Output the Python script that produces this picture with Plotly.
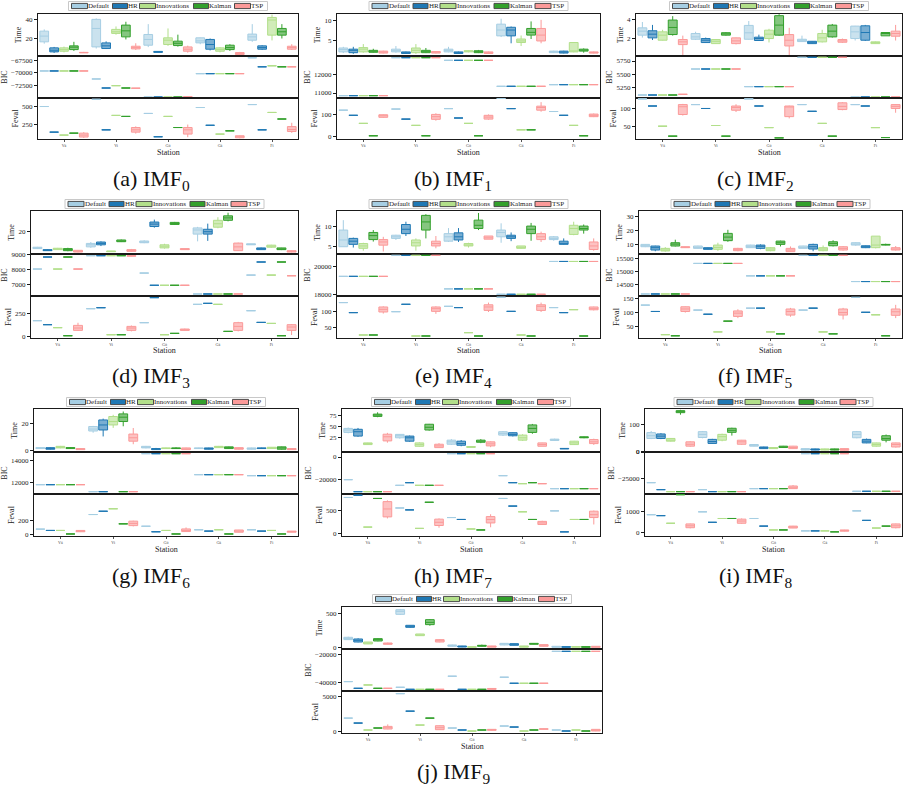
import plotly.graph_objects as go

W, H = 907, 790
FONT = "Liberation Serif"

STATIONS = ["Vä", "Vi", "Gö", "Gä", "Fi"]
METHODS = ["Default", "HR", "Innovations", "Kalman", "TSP"]
COLORS = {"Default": "#a6cee3", "HR": "#1f78b4", "Innovations": "#b2df8a",
          "Kalman": "#33a02c", "TSP": "#fb9a99"}

# Each entry per station: single value (flat box) or [low whisker, q1, median, q3, high whisker]

# ---------------- IMF0 ----------------
TIME_0 = {
    "Default": [[14.6, 16.5, 22.5, 27.7, 29.5], [9.5, 11.2, 30.5, 40, 41], [11, 13, 19, 24.2, 35], [14, 15.4, 17.5, 20.7, 21], [16.5, 18.2, 21.7, 24.6, 35]],
    "HR": [[4.9, 6, 7.7, 10.2, 11.2], [9, 9.5, 12.3, 15.4, 17], [5.3, 5.5, 6, 6.5, 6.7], [7.5, 8.8, 13.7, 19, 20], [8, 8.8, 10.5, 12.3, 13]],
    "Innovations": [[5.5, 6.7, 8.4, 10.2, 11.5], [24, 25.3, 27, 29.5, 32.6], [12.3, 13.7, 18.2, 20.7, 30.5], [5.5, 6.7, 8.4, 10.2, 11], [18, 23.5, 39.3, 42, 45]],
    "Kalman": [[7, 8.4, 10.9, 12.3, 16.5], [19, 21.7, 28, 34, 37.5], [11.5, 12.6, 15, 17.2, 24], [7, 8.4, 10.5, 13, 14], [20, 23.5, 27, 30.5, 35]],
    "TSP": [[4.8, 5, 5.3, 5.5, 6], [8, 9.1, 10.5, 11.9, 15], [5.2, 6.7, 8.8, 11.2, 12.5], [2.5, 3.2, 4.2, 5.3, 6], [8, 8.8, 10.5, 11.9, 14]],
}
BIC_0 = {
    "Default": [-69600, -71180, -74740, -70130, -67000],
    "HR": [-69600, -72960, -74740, -70130, -68780],
    "Innovations": [-69600, -72500, -74740, -70130, -68580],
    "Kalman": [-69600, -72960, -74740, -70130, -68780],
    "TSP": [-69600, -73000, [-74900, -74850, -74740, -74650, -74600], -70130, -68780],
}
FEVAL_0 = {
    "Default": [505, 605, 409, 491, 532],
    "HR": [150, 182, 86, 245, 182],
    "Innovations": [109, 382, 368, 123, 423],
    "Kalman": [136, 368, 214, 168, 332],
    "TSP": [[70, 82, 109, 136, 150], [130, 150, 182, 214, 230], [80, 123, 182, 214, 255], [65, 72, 86, 100, 105], [140, 159, 186, 227, 280]],
}

# ---------------- IMF1 ----------------
TIME_1 = {
    "Default": [[1.7, 2, 2.6, 3, 3.3], [1.8, 2, 2.3, 2.7, 3.5], [1.9, 2, 2.4, 2.7, 3.3], [5.8, 6.1, 7.6, 9.1, 10.5], [1.7, 1.8, 2.1, 2.2, 2.3]],
    "HR": [[1.5, 1.8, 2.4, 2.7, 3.3], [1.5, 1.6, 1.8, 2, 2.1], [1.5, 1.6, 1.8, 2, 2.1], [4.2, 6.1, 7.6, 8.3, 8.5], [1.6, 1.7, 1.9, 2.2, 2.3]],
    "Innovations": [[1.8, 2, 2.7, 3.1, 4], [1.5, 1.8, 2.4, 3, 4], [1.9, 2, 2.2, 2.3, 2.4], [3.5, 4.4, 4.8, 5.3, 6.2], [1.9, 2, 2.2, 4.4, 4.4]],
    "Kalman": [[1.8, 1.9, 2.2, 2.4, 2.8], [1.7, 1.8, 2.2, 2.4, 3], [1.7, 1.8, 2.1, 2.3, 2.5], [5.3, 6.3, 7, 8, 9.8], [1.8, 2.2, 2.4, 2.7, 2.9]],
    "TSP": [[1.6, 1.7, 1.9, 2.2, 2.3], [1.6, 1.7, 1.9, 2.1, 2.2], [1.5, 1.6, 1.8, 2, 2.1], [4.2, 4.8, 6.3, 8, 10.2], [1.6, 1.7, 1.8, 2, 2.1]],
}
BIC_1 = {
    "Default": [10855, 12927, 12782, 11364, 11455],
    "HR": [10855, 12927, 12782, 11364, 11455],
    "Innovations": [10855, 12927, 12782, 11364, 11455],
    "Kalman": [10855, 12927, 12782, 11364, 11455],
    "TSP": [10855, 12927, 12782, 11364, 11455],
}
FEVAL_1 = {
    "Default": [119, 124, 126, 172, 113],
    "HR": [96, 79, 84, 126, 96],
    "Innovations": [60, 51, 60, 31, 51],
    "Kalman": [4.4, 4.4, 4.4, 31, 4.4],
    "TSP": [[85, 87, 94, 98.5, 100], [72, 78, 90, 100, 105], [76, 79, 88, 96, 100], [112, 119, 131, 137, 155], [88, 90, 96, 101.5, 104]],
}

# ---------------- IMF2 ----------------
TIME_2 = {
    "Default": [[2.1, 2.35, 2.76, 3.1, 3.7], [1.85, 1.93, 2.17, 2.52, 2.7], [1.9, 1.93, 2.59, 3.35, 3.8], [1.65, 1.69, 1.83, 1.93, 2.3], [1.8, 2, 2.69, 3.28, 3.3]],
    "HR": [[1.85, 2.07, 2.45, 2.8, 3.4], [1.55, 1.59, 1.83, 2, 2.1], [1.75, 1.8, 2, 2.14, 2.4], [1.45, 1.48, 1.62, 1.72, 1.75], [1.75, 1.83, 2.62, 3.31, 3.4]],
    "Innovations": [[1.8, 1.83, 2.35, 2.69, 2.9], [1.45, 1.48, 1.72, 1.9, 1.95], [1.6, 2, 2.45, 2.86, 3], [1.6, 1.66, 2.07, 2.52, 2.9], [1.45, 1.48, 1.6, 1.66, 1.7]],
    "Kalman": [[2.3, 2.41, 3.14, 3.9, 4.3], [2.3, 2.35, 2.48, 2.6, 2.65], [2.3, 2.35, 3.38, 4.35, 4.5], [2.1, 2.17, 2.76, 3.38, 3.5], [2.28, 2.28, 2.52, 2.62, 2.62]],
    "TSP": [[0.3, 1.38, 1.66, 1.9, 2.3], [1.4, 1.48, 1.76, 2.07, 2.1], [0.3, 1.24, 1.83, 2.41, 3.1], [1.55, 1.62, 1.76, 1.9, 2], [1.8, 2.24, 2.52, 2.76, 3.4]],
}
BIC_2 = {
    "Default": [5104, 5598, 5263, 5820, 5066],
    "HR": [5104, 5598, 5263, 5820, 5066],
    "Innovations": [5104, 5598, 5263, 5820, 5066],
    "Kalman": [5104, 5598, 5263, 5820, 5066],
    "TSP": [5117, 5598, 5263, 5820, 5066],
}
FEVAL_2 = {
    "Default": [127, 111, 127, 111, 111],
    "HR": [107, 100, 107, 92, 107],
    "Innovations": [50, 52, 46, 58, 46],
    "Kalman": [22, 22, 17, 22, 18],
    "TSP": [[80, 83, 105, 111, 113], [90, 95, 103, 107, 112], [72, 77, 105, 107, 108], [95, 97, 106, 116, 118], [88, 100, 106, 111, 112]],
}

# ---------------- IMF3 ----------------
TIME_3 = {
    "Default": [[5, 5.3, 5.9, 6.5, 6.8], [6, 6.8, 8.6, 9.8, 11], [10, 10.4, 11, 11.9, 12.5], [11.6, 17.9, 21.5, 23.3, 24.2], [8.5, 8.6, 8.9, 9.5, 9.6]],
    "HR": [[3.2, 3.5, 3.8, 4.4, 4.7], [7.5, 8.6, 9.8, 11, 11.6], [23.5, 24.5, 26.6, 28.4, 30.5], [12, 17.9, 20, 22.1, 27], [4.2, 4.4, 5.3, 5.9, 6.2]],
    "Innovations": [[4.2, 4.4, 5, 5.6, 5.9], [2.5, 2.6, 2.9, 3.2, 3.3], [5.3, 5.9, 7.4, 8.6, 9.5], [23, 23.9, 26.9, 29.9, 32.6], [6, 6.5, 7.4, 8.3, 8.6]],
    "Kalman": [[3, 3.5, 4.4, 5.3, 6], [11, 11.3, 11.9, 12.8, 13.2], [26, 26.3, 27.2, 28.1, 28.5], [29, 29.9, 32, 33.8, 36.5], [4, 4.4, 5, 5.9, 6]],
    "TSP": [[2, 2.3, 2.9, 3.8, 4.1], [2.4, 2.9, 3.5, 4.4, 5], [4.4, 4.4, 4.7, 5.3, 5.3], [3.2, 3.5, 6.8, 10.1, 10.5], [2, 2.3, 2.9, 3.5, 3.8]],
}
BIC_3 = {
    "Default": [8022, 8900, 7758, 6385, 7626],
    "HR": [8813, 8900, 6956, 6385, 8484],
    "Innovations": [8022, 8900, 6956, 6385, 7626],
    "Kalman": [8813, 8900, 6956, 6385, 8484],
    "TSP": [8022, [8860, 8870, 8885, 8900, 8905], 6956, 6385, 7582],
}
FEVAL_3 = {
    "Default": [173, 305, 151, 353, 283],
    "HR": [129, 316, 427, 364, 154],
    "Innovations": [96, 18, 18, 353, 143],
    "Kalman": [7, 18, 33, 55, 7],
    "TSP": [[60, 66, 92, 121, 150], [55, 66, 92, 110, 120], [62, 66, 73, 81, 85], [55, 66, 110, 151, 160], [15, 66, 103, 129, 135]],
}

# ---------------- IMF4 ----------------
TIME_4 = {
    "Default": [[5, 5, 6.7, 9.2, 11.7], [6.7, 7.1, 7.5, 7.9, 8], [6.2, 6.4, 7.5, 8.3, 9.7], [6, 7.5, 8.6, 9.2, 10.9], [6.5, 6.8, 7.1, 7.5, 7.7]],
    "HR": [[4.8, 5.6, 6.4, 7.1, 7.3], [7.7, 8.3, 9.4, 10.6, 11.3], [6.2, 6.7, 7.5, 8.5, 9.7], [6.4, 7.1, 7.5, 7.9, 8.6], [5.5, 5.6, 5.8, 6.4, 7.1]],
    "Innovations": [[4, 4.6, 5.2, 5.8, 6], [4, 5.2, 6, 6.7, 7.1], [4.8, 5.2, 5.4, 5.8, 6], [4.5, 4.6, 4.8, 5.2, 5.2], [7.9, 8.1, 9.6, 10.4, 11.3]],
    "Kalman": [[6.3, 6.8, 7.8, 8.6, 9.2], [7.1, 9.2, 11.25, 12.9, 13.2], [9.2, 9.6, 10.4, 11.7, 13.5], [6.5, 8.3, 9.4, 10.2, 11], [8.3, 9.2, 9.6, 10.2, 10.6]],
    "TSP": [[3.8, 5.4, 6.2, 6.8, 7.5], [4.6, 5.2, 5.8, 6.4, 7.7], [6.9, 6.9, 7.25, 7.7, 7.7], [6.2, 6.8, 7.5, 8.3, 8.8], [4, 4.3, 5.2, 6.2, 7.1]],
}
BIC_4 = {
    "Default": [19325, 20819, 18434, 18048, 20385],
    "HR": [19325, 20819, 18434, 18048, 20385],
    "Innovations": [19325, 20819, 18434, 18048, 20385],
    "Kalman": [19325, 20819, 18434, 18048, 20385],
    "TSP": [19325, 20819, 18434, 18048, 20385],
}
FEVAL_4 = {
    "Default": [130, 101, 118, 147, 114],
    "HR": [98, 124.5, 114, 102, 98],
    "Innovations": [26.6, 23.4, 34, 26.6, 107.4],
    "Kalman": [26.6, 23.4, 23.4, 23.4, 23.4],
    "TSP": [[95, 100, 108.5, 116, 118], [94, 102, 110.6, 116, 118], [100, 105, 116, 123, 130], [100, 105, 118, 123, 130], [105, 107, 110.6, 116, 117]],
}

# ---------------- IMF5 ----------------
TIME_5 = {
    "Default": [[8, 8.3, 9, 10, 10.2], [6.9, 7.1, 7.8, 8.8, 9], [7.5, 7.6, 8.6, 9.5, 9.7], [7, 7.1, 7.8, 8.8, 9], [9, 9.5, 10.2, 11.2, 11.5]],
    "HR": [[5, 5.9, 7.6, 8.8, 9], [6.3, 6.4, 6.9, 7.6, 7.8], [6.5, 7.1, 8.6, 9.5, 10], [5, 6.6, 8.3, 10, 10.5], [7.3, 7.6, 8.3, 9, 9.2]],
    "Innovations": [[4.7, 5.2, 5.9, 7.1, 8], [5.3, 6.4, 7.8, 9.5, 11.2], [5, 5.4, 6.6, 7.6, 8], [5, 5.4, 6.6, 7.6, 9.2], [7.1, 7.6, 9.5, 16, 16]],
    "Kalman": [[8.5, 8.8, 10.2, 11.2, 13.4], [11.9, 12.7, 15.3, 18, 20.6], [8.5, 10, 11.2, 12.4, 12.7], [8.5, 9, 10.7, 11.9, 13], [9.3, 9.5, 9.8, 10, 10.5]],
    "TSP": [[7.5, 7.6, 8, 8.3, 8.4], [5, 5.4, 6.4, 7.1, 7.5], [4.5, 4.7, 5.9, 7.1, 8.5], [5.5, 5.9, 7.1, 8.3, 8.8], [5.5, 5.9, 6.6, 7.6, 8.8]],
}
BIC_5 = {
    "Default": [14141, 15308, 14833, 15615, 14615],
    "HR": [14141, 15308, 14833, 15615, 14615],
    "Innovations": [14141, 15308, 14833, 15615, 14615],
    "Kalman": [14141, 15308, 14833, 15615, 14615],
    "TSP": [14141, 15308, 14833, 15615, 14615],
}
FEVAL_5 = {
    "Default": [127, 109, 116, 109, 155],
    "HR": [104, 94, 116, 116, 101],
    "Innovations": [20, 30, 30, 30, 92],
    "Kalman": [16, 69, 23, 23, 16],
    "TSP": [[100, 104, 113, 121, 122], [80, 86, 98, 106, 112], [85, 91, 104, 113, 117], [75, 91, 100, 113, 117], [80, 90, 103, 113, 128]],
}

# ---------------- IMF6 ----------------
TIME_6 = {
    "Default": [[1, 1.3, 1.8, 2, 2.2], [13.3, 14.6, 16.1, 18, 18.5], [1.5, 1.8, 2.3, 3, 3.3], [1.1, 1.3, 1.5, 1.8, 2], [0.6, 0.8, 1.3, 1.8, 2]],
    "HR": [[0.5, 0.8, 1.3, 2, 2.3], [10.5, 15.4, 19.2, 23, 24], [0.3, 0.5, 1, 1.3, 1.8], [0.6, 0.8, 1.3, 1.8, 2], [1.1, 1.3, 1.5, 1.8, 2]],
    "Innovations": [[1.5, 1.8, 2.3, 3, 3.3], [17, 19.2, 21.8, 25.6, 26.9], [1.1, 1.3, 1.5, 1.8, 2], [1.8, 2, 2.6, 3, 3.3], [1.1, 1.3, 1.8, 2.3, 2.5]],
    "Kalman": [[1, 1.3, 1.8, 2, 2.3], [18.2, 21.8, 25.1, 27.6, 29.4], [1, 1.3, 1.5, 1.8, 2.3], [1, 1.3, 2, 2.6, 2.8], [0.5, 0.8, 1.8, 2.6, 2.8]],
    "TSP": [[0.3, 0.5, 0.8, 1.3, 1.5], [4.6, 6.9, 9.5, 12.3, 16.9], [0.3, 0.5, 1, 1.8, 2], [0.5, 0.8, 1.3, 2, 2.3], [0.3, 0.5, 0.8, 1.3, 1.5]],
}
BIC_6 = {
    "Default": [11821, 11194, 14597, 12716, 12627],
    "HR": [11821, 11194, 14597, 12716, 12627],
    "Innovations": [11821, 10990, 14597, 12716, 12627],
    "Kalman": [11821, 11194, 14597, 12716, 12627],
    "TSP": [11821, 11194, 14597, 12716, 12627],
}
FEVAL_6 = {
    "Default": [81, 287.5, 122, 72, 72],
    "HR": [62.5, 334, 44, 53, 53],
    "Innovations": [62.5, 369, 62.5, 72, 62.5],
    "Kalman": [12.5, 156, 12.5, 12.5, 12.5],
    "TSP": [[40, 44, 53, 62.5, 65], [120, 131, 162.5, 194, 200], [45, 47, 62.5, 84, 105], [35, 37.5, 53, 69, 70], [35, 37.5, 47, 53, 55]],
}

# ---------------- IMF7 ----------------
TIME_7 = {
    "Default": [[35, 37, 42.4, 46, 48], [23, 25, 29.5, 32.6, 33], [9, 10.6, 15.9, 19.7, 22], [29, 31, 34.9, 38.6, 40], [18, 19, 20.5, 22, 23]],
    "HR": [[27, 28.8, 38.6, 44, 47], [16, 17.4, 25, 28.8, 30], [6, 8.3, 12.1, 17.4, 20], [28, 29.5, 32.6, 36.4, 37], [0.1, 0.2, 0.6, 1.2, 1.5]],
    "Innovations": [[9, 9.8, 12, 13.6, 14], [5, 6, 9.8, 13.6, 15], [3, 3.5, 4.5, 5.5, 6], [18, 19.7, 25, 31, 33], [9, 9.8, 13.6, 17.4, 18]],
    "Kalman": [[71, 72.8, 75.8, 78, 82], [41, 42.4, 48.5, 55.3, 56], [13, 15, 17.4, 19.7, 22], [34, 37, 46, 53.8, 56], [24, 25, 25.8, 27.3, 28]],
    "TSP": [[14, 18, 27.3, 33, 36], [3, 3, 6.8, 10.6, 13], [4, 6.8, 11.4, 15.9, 17], [6, 6, 9.8, 13.6, 14], [9, 12, 15.9, 21, 23]],
}
BIC_7 = {
    "Default": [-20000, -25000, 2940, -16470, -27940],
    "HR": [-30588, -22647, 2940, -22647, -27940],
    "Innovations": [-30588, -25000, 2940, -23530, -27940],
    "Kalman": [-30588, -25000, 2940, -22647, -27940],
    "TSP": [-30588, -25000, 2940, -23530, -27940],
}
FEVAL_7 = {
    "Default": [781, 555, 349, 760, 493],
    "HR": [829, 514, 308, 596, 41],
    "Innovations": [144, 116, 103, 473, 308],
    "Kalman": [760, 678, 82, 308, 308],
    "TSP": [[330, 363, 534, 692, 720], [130, 178, 247, 315, 330], [140, 233, 308, 370, 420], [190, 199, 233, 267, 280], [200, 349, 411, 486, 500]],
}

# ---------------- IMF8 ----------------
TIME_8 = {
    "Default": [[45, 47.5, 57.5, 69, 75], [48, 51, 62.5, 72.5, 75], [18, 19, 22.5, 25, 26], [4, 5, 6, 10, 11], [48, 50, 62.5, 72.5, 75]],
    "HR": [[45, 47.5, 56, 64, 67], [28, 29, 36, 44, 46], [9, 10, 14, 16, 17], [4, 5, 6, 9, 10], [30, 31, 37.5, 44, 47]],
    "Innovations": [[36, 37.5, 41, 47.5, 48], [37, 41, 54, 62.5, 65], [9, 10, 12, 14, 15], [4, 5, 6, 9, 10], [17, 19, 25, 31, 32]],
    "Kalman": [[135, 142.5, 146, 150, 153], [58, 70, 77.5, 85, 87], [13, 14, 16, 19, 20], [4, 5, 6, 9, 10], [33, 41, 47.5, 57.5, 62]],
    "TSP": [[17, 19, 26, 35, 37], [24, 26, 35, 41, 42], [9, 10, 14, 19, 20], [3, 4, 6, 10, 11], [14, 16, 25, 31, 32]],
}
BIC_8 = {
    "Default": [-28750, -35310, -34375, -1560, -36875],
    "HR": [-35310, -37190, -34375, -1560, -36875],
    "Innovations": [-37190, -37190, -34375, -1560, -36875],
    "Kalman": [-37190, -37190, -34375, -1560, -36875],
    "TSP": [-37190, -37190, [-34375, -34375, -33125, -31875, -31000], -1560, -36875],
}
FEVAL_8 = {
    "Default": [861, 1000, 677, 77, 1046],
    "HR": [815, 492, 308, 77, 585],
    "Innovations": [446, 677, 123, 77, 215],
    "Kalman": [1830, 677, 123, 31, 308],
    "TSP": [[200, 231, 323, 415, 430], [420, 446, 554, 646, 680], [210, 215, 261, 308, 320], [50, 62, 92, 123, 130], [200, 231, 323, 415, 430]],
}

# ---------------- IMF9 ----------------
TIME_9 = {
    "Default": [[110, 114, 129, 149, 158], [480, 490, 535, 559, 570], [10, 15, 25, 35, 40], [30, 35, 50, 59, 62], [1, 2, 5, 15, 18]],
    "HR": [[75, 79, 104, 124, 134], [290, 297, 312, 327, 330], [2, 5, 10, 20, 22], [28, 30, 45, 54, 55], [0.5, 1, 5, 10, 12]],
    "Innovations": [[48, 50, 64, 79, 80], [170, 173, 183, 198, 200], [0.5, 1, 5, 8, 10], [1, 2, 10, 20, 22], [1, 2, 6, 12, 14]],
    "Kalman": [[90, 94, 114, 129, 135], [320, 337, 371, 411, 420], [10, 15, 25, 30, 40], [42, 45, 54, 59, 60], [0.5, 1, 5, 10, 12]],
    "TSP": [[40, 45, 54, 64, 70], [75, 79, 99, 114, 120], [1, 2, 12, 20, 22], [12, 15, 30, 40, 42], [0.5, 1, 6, 15, 18]],
}
BIC_9 = {
    "Default": [-39280, -43370, -35420, -36145, -17590],
    "HR": [-44100, -44820, -44820, -40480, -17590],
    "Innovations": [-41690, -44820, -44820, -40480, -17590],
    "Kalman": [-44100, -44820, -44820, -40480, -17590],
    "TSP": [-44100, -44820, [-44900, -44820, -44500, -44200, -44100], -40480, -17590],
}
FEVAL_9 = {
    "Default": [1905, 5429, 476, 762, 190],
    "HR": [1190, 2905, 190, 619, 48],
    "Innovations": [190, 905, 48, 48, 190],
    "Kalman": [476, 1905, 190, 190, 48],
    "TSP": [[300, 333, 524, 714, 1000], [200, 238, 524, 810, 850], [100, 143, 238, 286, 300], [280, 300, 333, 370, 400], [20, 48, 143, 286, 300]],
}

TIME = [TIME_0, TIME_1, TIME_2, TIME_3, TIME_4, TIME_5, TIME_6, TIME_7, TIME_8, TIME_9]
BIC = [BIC_0, BIC_1, BIC_2, BIC_3, BIC_4, BIC_5, BIC_6, BIC_7, BIC_8, BIC_9]
FEVAL = [FEVAL_0, FEVAL_1, FEVAL_2, FEVAL_3, FEVAL_4, FEVAL_5, FEVAL_6, FEVAL_7, FEVAL_8, FEVAL_9]
LETTERS = ["a", "b", "c", "d", "e", "f", "g", "h", "i", "j"]

# ---- layout (pixel geometry, axis ranges, ticks) ----
ROWS = [(14, 56, 98, 139), (211, 254, 296, 338), (409, 452, 494, 536), (607, 649, 691, 733)]
LR = [(38, 298), (337, 600), (636, 902), (31, 298), (337, 600), (639, 902),
      (34, 298), (342, 600), (645, 902), (342, 602)]
ROW_OF = [0, 0, 0, 1, 1, 1, 2, 2, 2, 3]
LEGEND_Y = [6, 204, 402, 599]
CAPTION_Y = [180, 377, 577, 773]
CAPTION_X = [151, 453, 755, 151, 453, 755, 151, 453, 755, 453]

AXES = [  # per panel: (range, ticks) for Time, BIC, Feval
    [([1.7, 45.6], [20, 40]), ([-74930, -66650], [-72500, -70000, -67500]), ([55, 623], [250, 500])],
    [([0.95, 11.7], [5, 10]), ([10727, 13018], [11000, 12000]), ([-10, 173.5], [0, 100])],
    [([0.21, 4.52], [2, 4]), ([5047, 5845], [5250, 5500, 5750]), ([13.9, 129.6], [50, 100])],
    [([0.6, 38], [20]), ([6253, 9010], [7000, 8000, 9000]), ([-18, 445], [0, 250])],
    [([3.17, 14], [5, 10]), ([17928, 20916], [18000, 20000]), ([17, 151], [50, 100])],
    [([3, 34.3], [10, 20, 30]), ([14064, 15667], [14500, 15000, 15500]), ([8, 160], [50, 100, 150])],
    [([-1.3, 31.3], [0, 20]), ([10985, 14746], [12000, 14000]), ([-16, 578], [0, 200])],
    [([-6.8, 89.4], [25, 50, 75]), ([-32650, 4410], [-20000, 0]), ([-48, 856], [0, 500])],
    [([-2.5, 156], [0, 100]), ([-39400, 0], [-25000, 0]), ([-170, 1862], [0, 1000])],
    [([-25, 599], [0, 500]), ([-46020, -15900], [-40000, -20000]), ([-240, 5810], [0, 5000])],
]


def rgba(hexc, a):
    h = hexc.lstrip("#")
    return f"rgba({int(h[0:2],16)},{int(h[2:4],16)},{int(h[4:6],16)},{a})"


def split(entries):
    lo, q1, md, q3, hi = [], [], [], [], []
    for e in entries:
        if isinstance(e, (list, tuple)):
            a, b, c, d, f = e
        else:
            a = b = c = d = f = e
        lo.append(a); q1.append(b); md.append(c); q3.append(d); hi.append(f)
    return lo, q1, md, q3, hi


def px(x):
    return x / W


def py(y):
    return 1 - y / H


fig = go.Figure()
layout = {}
LINE_C = "#1a1a1a"
TXT_C = "#222222"
shapes, annos = [], []

for p in range(10):
    l, r = LR[p]
    rt = ROWS[ROW_OF[p]]
    bands = [(rt[0], rt[1]), (rt[1], rt[2]), (rt[2], rt[3])]
    sources = [TIME[p], BIC[p], FEVAL[p]]
    ylabels = ["Time", "BIC", "Feval"]
    for ri in range(3):
        k = p * 3 + ri + 1
        xs = "x" if k == 1 else f"x{k}"
        ys = "y" if k == 1 else f"y{k}"
        data = sources[ri]
        for m in METHODS:
            lo, q1, md, q3, hi = split(data[m])
            fig.add_trace(go.Box(
                x=STATIONS, q1=q1, median=md, q3=q3, lowerfence=lo, upperfence=hi,
                name=m, xaxis=xs, yaxis=ys, offsetgroup=m,
                fillcolor=rgba(COLORS[m], 0.6), line=dict(color=COLORS[m], width=1),
                marker=dict(color=COLORS[m]), whiskerwidth=0, boxpoints=False,
                showlegend=False, hoverinfo="skip"))
        top, bot = bands[ri]
        rng, tv = AXES[p][ri]
        xa = dict(domain=[l / W, r / W], anchor=ys, type="category",
                  categoryorder="array", categoryarray=STATIONS, range=[-0.5, 4.5],
                  showline=True, linecolor=LINE_C, linewidth=1.4, mirror=True,
                  showgrid=False, zeroline=False, automargin=False)
        if ri == 2:
            xa.update(ticks="outside", ticklen=2, tickwidth=0.6, tickcolor="#555",
                      showticklabels=True, tickfont=dict(size=4, family=FONT, color="#444"))
        else:
            xa.update(ticks="", showticklabels=False)
        ya = dict(domain=[1 - bot / H, 1 - top / H], anchor=xs, range=rng,
                  tickmode="array", tickvals=tv, tickformat="d",
                  ticks="outside", ticklen=3, tickwidth=0.8, tickcolor=LINE_C,
                  tickfont=dict(size=7, family=FONT, color=TXT_C),
                  showline=True, linecolor=LINE_C, linewidth=1.4, mirror=True,
                  showgrid=False, zeroline=False, automargin=False,
                  title=dict(text=ylabels[ri], font=dict(size=8, family=FONT, color=TXT_C), standoff=2))
        layout["xaxis" if k == 1 else f"xaxis{k}"] = xa
        layout["yaxis" if k == 1 else f"yaxis{k}"] = ya
    # "Station" axis title
    annos.append(dict(x=px((l + r) / 2), y=py(rt[3] + 13), xref="paper", yref="paper",
                      text="Station", showarrow=False, xanchor="center", yanchor="middle",
                      font=dict(size=8, family=FONT, color=TXT_C)))

# ---- manual legends and captions ----
LEG_PATCH = [(-96.5, -80.5), (-55.5, -40.5), (-28.5, -12.5), (25.5, 40.5), (66.5, 82.5)]
LEG_TEXT = [-80, -40, -12, 41, 83]

for p in range(10):
    l, r = LR[p]
    cx = (l + r) / 2
    ly = LEGEND_Y[ROW_OF[p]]
    shapes.append(dict(type="rect", xref="paper", yref="paper",
                       x0=px(cx - 99.5), x1=px(cx + 99.5), y0=py(ly + 4.5), y1=py(ly - 4.5),
                       line=dict(color="#c8c8c8", width=1), fillcolor="white", layer="below"))
    for mi, m in enumerate(METHODS):
        a, b = LEG_PATCH[mi]
        shapes.append(dict(type="rect", xref="paper", yref="paper",
                           x0=px(cx + a), x1=px(cx + b), y0=py(ly + 2.6), y1=py(ly - 2.6),
                           line=dict(color="#4a4a4a", width=1), fillcolor=COLORS[m], layer="below"))
        annos.append(dict(x=px(cx + LEG_TEXT[mi]), y=py(ly), xref="paper", yref="paper",
                          text=m, showarrow=False, xanchor="left", yanchor="middle",
                          borderpad=0, borderwidth=0,
                          font=dict(size=7, family=FONT, color=TXT_C)))
    annos.append(dict(x=px(CAPTION_X[p]), y=py(CAPTION_Y[ROW_OF[p]]), xref="paper", yref="paper",
                      text=f"({LETTERS[p]}) IMF<sub>{p}</sub>", showarrow=False,
                      xanchor="center", yanchor="middle",
                      font=dict(size=22, family=FONT, color="#111")))

fig.update_layout(
    template="none",
    width=W, height=H, margin=dict(l=0, r=0, t=0, b=0),
    paper_bgcolor="white", plot_bgcolor="white",
    boxmode="group", boxgap=0.05, boxgroupgap=0.12,
    showlegend=False, shapes=shapes, annotations=annos,
    font=dict(family=FONT, color=TXT_C),
    **layout)

fig.write_html("out.html")
